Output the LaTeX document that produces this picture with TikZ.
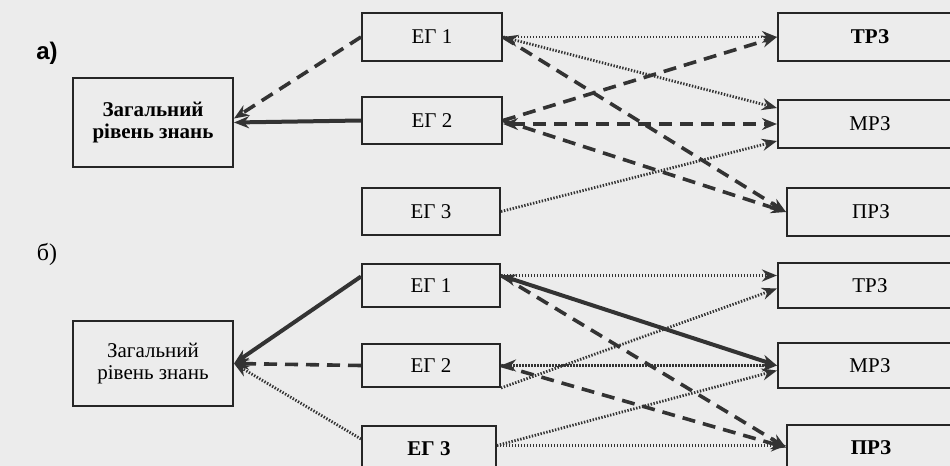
\documentclass[tikz,border=0pt]{standalone}
\usepackage{fontspec}
\setmainfont{Liberation Serif}
\newfontfamily\labsans{Liberation Sans}
\usetikzlibrary{arrows.meta,calc}
\definecolor{bg}{HTML}{ECECEC}
\definecolor{ln}{HTML}{333333}
\definecolor{bx}{HTML}{262626}
\begin{document}
\begin{tikzpicture}[x=0.5pt,y=-0.5pt,
  box/.style={draw=bx, line width=1pt, inner sep=0pt, align=center,
    font=\fontsize{10.5}{11}\selectfont, text=black},
  boldbox/.style={box, font=\fontsize{10.5}{11}\selectfont\bfseries},
  tip/.style={-{Stealth[length=7.5pt,width=6pt]}},
  both/.style={{Stealth[length=7.5pt,width=6pt]}-{Stealth[length=7.5pt,width=6pt]}},
  dashln/.style={draw=ln, line width=1.8pt, dash pattern=on 6.5pt off 4pt},
  dotln/.style={draw=ln, line width=1.4pt, dash pattern=on 0.7pt off 0.8pt},
  solidln/.style={draw=ln, line width=2pt},
]
\fill[bg] (0,0) rectangle (950,466);
\useasboundingbox (0,0) rectangle (950,466);

% labels
\node[font=\labsans\bfseries\fontsize{12}{12}\selectfont] (la) at (47,53) {а)};
\node[font=\fontsize{12}{12}\selectfont] (lb) at (47,254) {б)};

% ---------- a) ----------
\node[boldbox, minimum width=80pt, minimum height=44.5pt] (zaga) at (153,122.5) {Загальний\\рівень знань};
\node[box, minimum width=70pt, minimum height=24pt] (eg1a) at (432,37) {ЕГ 1};
\node[box, minimum width=70pt, minimum height=23.5pt] (eg2a) at (432,120.5) {ЕГ 2};
\node[box, minimum width=69pt, minimum height=23.5pt] (eg3a) at (431,211.5) {ЕГ 3};
\node[boldbox, minimum width=92pt, minimum height=24pt] (trza) at (870,37) {ТРЗ};
\node[box, minimum width=92pt, minimum height=24pt] (mrza) at (870,124) {МРЗ};
\node[box, minimum width=84pt, minimum height=24pt] (prza) at (871,212) {ПРЗ};

\draw[dashln,tip] (eg1a.west) -- ($(zaga.east)+(0,-4)$);
\draw[solidln,tip] (eg2a.west) -- (zaga.east);
\draw[dotln,tip] (eg1a.east) -- (trza.west);
\draw[dotln,both] (eg1a.east) -- ($(mrza.west)+(0,-16)$);
\draw[dashln,tip] (eg1a.east) -- (prza.west);
\draw[dashln,tip] (eg2a.east) -- (trza.west);
\draw[dashln,both] (eg2a.east |- mrza.west) -- (mrza.west);
\draw[dashln,tip] (eg2a.east) -- (prza.west);
\draw[dotln,tip] (eg3a.east) -- ($(mrza.west)+(0,17)$);

% ---------- б) ----------
\node[box, minimum width=80pt, minimum height=42.5pt] (zagb) at (153,363.5) {Загальний\\рівень знань};
\node[box, minimum width=69pt, minimum height=21.5pt] (eg1b) at (431,285.5) {ЕГ 1};
\node[box, minimum width=69pt, minimum height=21.5pt] (eg2b) at (431,365.5) {ЕГ 2};
\node[boldbox, minimum width=67pt, minimum height=22.5pt] (eg3b) at (429,448.5) {ЕГ 3};
\node[box, minimum width=92pt, minimum height=22.5pt] (trzb) at (870,285.5) {ТРЗ};
\node[box, minimum width=92pt, minimum height=22.5pt] (mrzb) at (870,365.5) {МРЗ};
\node[boldbox, minimum width=84pt, minimum height=22.5pt] (przb) at (871,447.5) {ПРЗ};

\coordinate (e1b) at ($(eg1b.east)+(0,-10)$);
\coordinate (e3b) at ($(eg3b.east)+(0,-3)$);

\draw[solidln,tip] ($(eg1b.west)+(0,-9)$) -- (zagb.east);
\draw[dashln,tip] (eg2b.west) -- (zagb.east);
\draw[dotln,tip] ($(eg3b.north west)+(0,14)$) -- (zagb.east);
\draw[dotln,tip] (e1b) -- (trzb.west |- e1b);
\draw[dotln,tip] (eg2b.south east) -- ($(trzb.west)+(0,3)$);
\draw[solidln,both] (e1b) -- (mrzb.west);
\draw[dashln,tip] (e1b) -- (przb.west);
\draw[dotln,both] (eg2b.east) -- (mrzb.west);
\draw[dashln,tip] (eg2b.east) -- (przb.west);
\draw[dotln,tip] (e3b) -- ($(mrzb.west)+(0,5)$);
\draw[dotln,tip] (e3b) -- (przb.west |- e3b);
\end{tikzpicture}
\end{document}
